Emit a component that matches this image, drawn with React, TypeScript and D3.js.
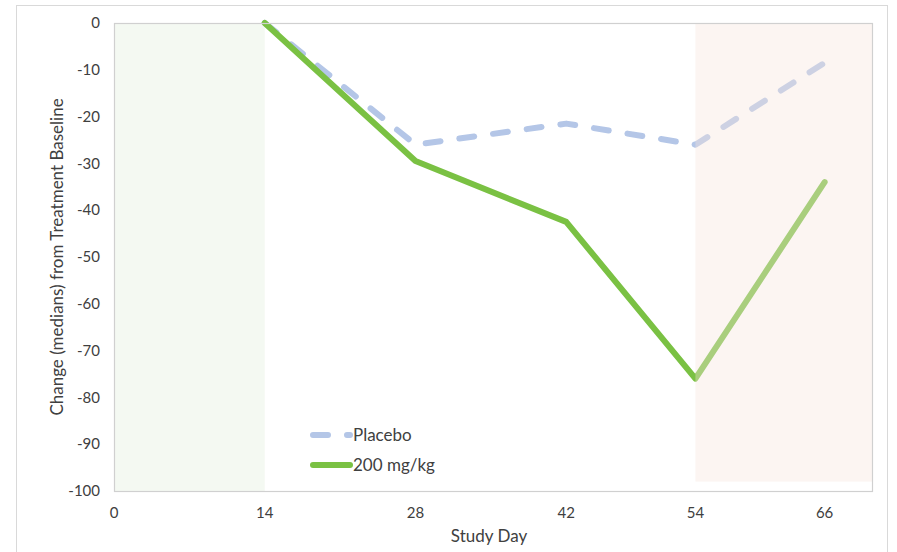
import React from "react";
import * as d3 from "d3";

const days = [14, 28, 42, 54, 66];
const placebo = [0, -26, -21.5, -26, -8.5];
const dose200 = [0, -29.5, -42.5, -76, -34];
const xTicks = [0, 14, 28, 42, 54, 66];
const yTicks = [0, -10, -20, -30, -40, -50, -60, -70, -80, -90, -100];
const seriesNames = ["Placebo", "200 mg/kg"];

const W = 897;
const H = 552;
const M = { left: 114, top: 23, right: 872, bottom: 491 };
const FONT = "Lato, 'Open Sans', sans-serif";

export default function App() {
  const x = d3.scaleLinear().domain([0, 70.4]).range([M.left, M.right]);
  const y = d3.scaleLinear().domain([-100, 0]).range([M.bottom, M.top]);
  const line = d3
    .line<[number, number]>()
    .x((d) => x(d[0]))
    .y((d) => y(d[1]));
  const pData = days.map((d, i) => [d, placebo[i]] as [number, number]);
  const gData = days.map((d, i) => [d, dose200[i]] as [number, number]);

  return (
    <svg
      width={W}
      height={H}
      style={{ position: "absolute", left: 0, top: 0, background: "#fff" }}
      fontFamily={FONT}
    >
      <rect x={16.5} y={5.5} width={871} height={560} fill="#fff" stroke="#d9d9d9" />
      {/* shaded regions */}
      <rect
        x={x(0)}
        y={y(0)}
        width={x(14) - x(0)}
        height={y(-100) - y(0)}
        fill="#f4f9f2"
      />
      <path d={line(pData) || ""} fill="none" stroke="#b4c6e7" strokeWidth={6} strokeLinecap="round" strokeLinejoin="round" strokeDasharray="15 19" />
      <path d={line(gData) || ""} fill="none" stroke="#7ac143" strokeWidth={6} strokeLinecap="round" strokeLinejoin="round" />
      <rect
        x={x(54)}
        y={y(0)}
        width={M.right - x(54)}
        height={y(-98) - y(0)}
        fill="#f8e6dc"
        fillOpacity={0.38}
      />
      {/* plot border */}
      <rect
        x={M.left + 0.5}
        y={M.top + 0.5}
        width={M.right - M.left}
        height={M.bottom - M.top}
        fill="none"
        stroke="#d0d0d0"
        strokeWidth={1.2}
      />
      {/* y ticks */}
      {yTicks.map((t) => (
        <text key={t} x={M.left - 14} y={y(t)} dy="0.35em" textAnchor="end" fontSize={15} fill="#404040">
          {t}
        </text>
      ))}
      {/* x ticks */}
      {xTicks.map((t) => (
        <text key={t} x={x(t)} y={M.bottom + 27} textAnchor="middle" fontSize={15} fill="#404040">
          {t}
        </text>
      ))}
      <text x={489} y={542} textAnchor="middle" fontSize={17} fill="#404040">
        Study Day
      </text>
      <text
        transform={`translate(63, ${(M.top + M.bottom) / 2}) rotate(-90)`}
        textAnchor="middle"
        fontSize={17}
        fill="#404040"
      >
        Change (medians) from Treatment Baseline
      </text>
      {/* legend */}
      <g>
        <line x1={313} x2={350} y1={435} y2={435} stroke="#b4c6e7" strokeWidth={6} strokeLinecap="round" strokeDasharray="15 19" />
        <text x={353} y={435} dy="0.35em" fontSize={17} fill="#404040">
          {seriesNames[0]}
        </text>
        <line x1={313} x2={350} y1={465} y2={465} stroke="#7ac143" strokeWidth={6} strokeLinecap="round" />
        <text x={353} y={465} dy="0.35em" fontSize={17} fill="#404040">
          {seriesNames[1]}
        </text>
      </g>
    </svg>
  );
}
